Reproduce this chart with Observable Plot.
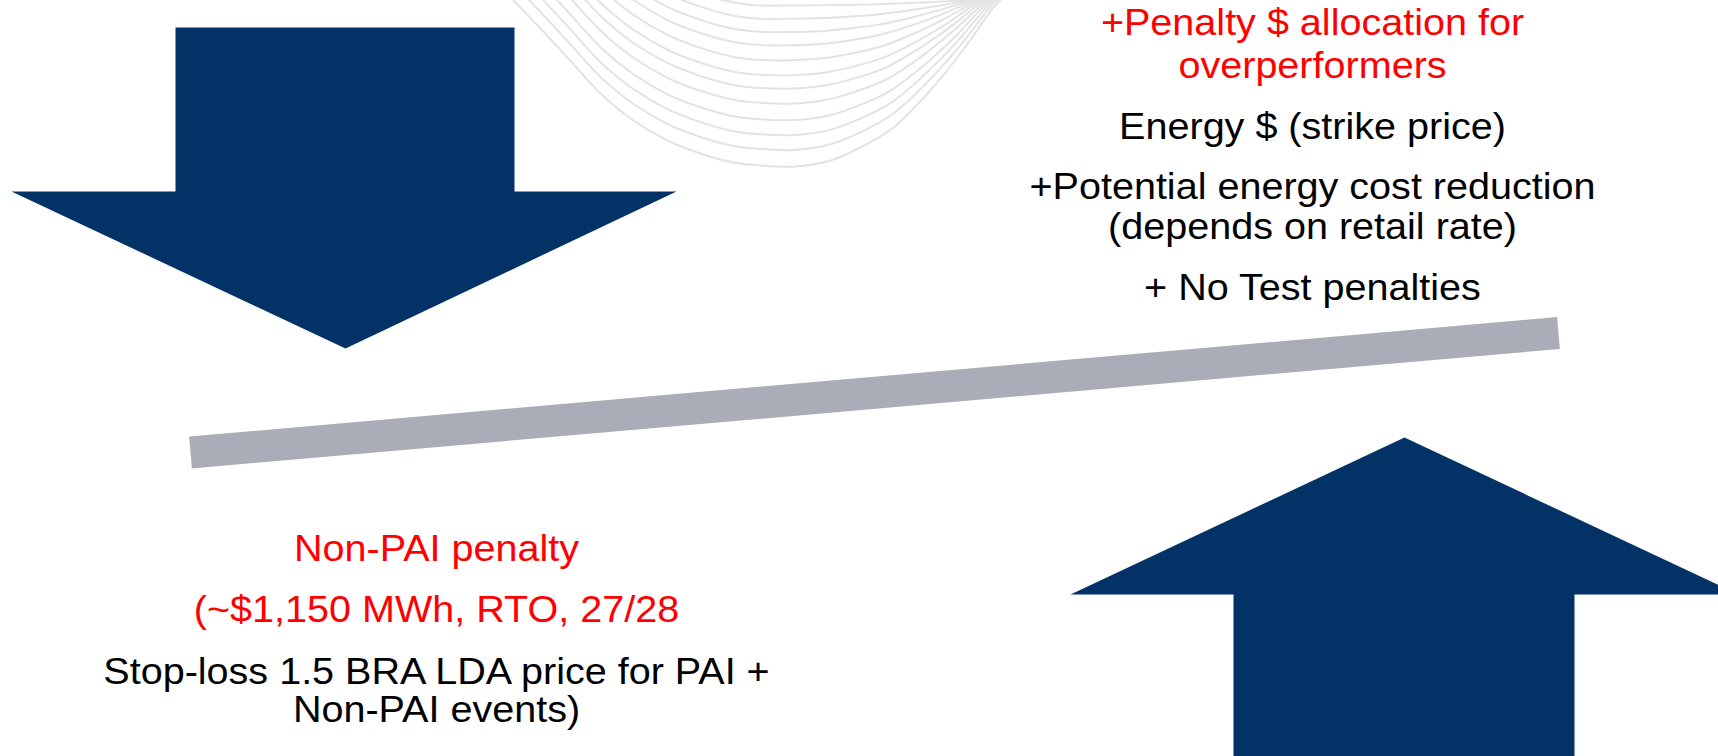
<!DOCTYPE html>
<html>
<head>
<meta charset="utf-8">
<script src="https://cdn.jsdelivr.net/npm/d3@7"></script>
<script src="https://cdn.jsdelivr.net/npm/@observablehq/plot@0.6"></script>
<style>
  html, body { margin: 0; padding: 0; background: #ffffff; overflow: hidden; }
  #chart svg { display: block; }
</style>
</head>
<body>
<div id="chart"></div>
<script>
// ---- Text content ----
const rightLines  = ["+Penalty $ allocation for", "overperformers", "Energy $ (strike price)",
                     "+Potential energy cost reduction", "(depends on retail rate)", "+ No Test penalties"];
const rightColors = ["#ff0000", "#ff0000", "#000000", "#000000", "#000000", "#000000"];
const rightY      = [22, 65, 126, 186, 226, 287];
const rightX      = 1312;

const leftLines  = ["Non-PAI penalty", "(~$1,150 MWh, RTO, 27/28",
                    "Stop-loss 1.5 BRA LDA price for PAI +", "Non-PAI events)"];
const leftColors = ["#ff0000", "#ff0000", "#000000", "#000000"];
const leftY      = [548, 609, 671, 709];
const leftX      = 436;

// ---- Shapes (pixel-space vertices) ----
const downArrowX = [175, 514, 514, 676, 345, 11, 175];
const downArrowY = [27, 27, 191, 191, 348, 191, 191];
const upArrowX   = [1404, 1738, 1574, 1574, 1233, 1233, 1070];
const upArrowY   = [437, 594, 594, 770, 770, 594, 594];
const beamX      = [190, 1558];
const beamY      = [452, 332.5];

// background swoosh: bottom curve profile, relative depth and right end of each curve
const swooshX     = [513, 540, 567, 600, 633, 667, 700, 733, 760, 795, 830, 860, 893, 927, 960, 993, 1000];
const swooshY     = [0, 28, 57, 93, 120, 140, 153, 162, 165, 166, 160, 147, 127, 93, 53, 7, 0];
const swooshScale = [1, 0.9, 0.81, 0.72, 0.62, 0.53, 0.45, 0.36, 0.27, 0.19, 0.11, 0.03];
const swooshEnd   = [1000, 997, 994, 991, 988, 985, 982, 979, 976, 973, 970, 967];

// ---- Build tables for the marks ----
const pts = (xs, ys, shape) => xs.map((x, i) => ({x, y: ys[i], shape}));
const arrows = [...pts(downArrowX, downArrowY, "down"), ...pts(upArrowX, upArrowY, "up")];
const beam = pts(beamX, beamY, "beam");

const swoosh = [];
swooshScale.forEach((c, k) => {
  const end = swooshEnd[k];
  swooshX.forEach((x, i) => {
    const y0 = swooshY[i];
    if (x < 760) {
      swoosh.push({x, y: y0 - (1 - c) * 165, k});
    } else {
      swoosh.push({x: 760 + (x - 760) * (end - 760) / 240, y: c * y0, k});
    }
  });
});

const texts = [
  ...rightLines.map((t, i) => ({text: t, x: rightX, y: rightY[i], color: rightColors[i]})),
  ...leftLines.map((t, i) => ({text: t, x: leftX, y: leftY[i], color: leftColors[i]}))
];

const chart = Plot.plot({
  width: 1718,
  height: 756,
  margin: 0,
  x: {domain: [0, 1718], range: [0, 1718], axis: null},
  y: {domain: [0, 756], range: [0, 756], axis: null},
  style: {background: "#ffffff", fontFamily: "'Liberation Sans', Arial, sans-serif"},
  marks: [
    Plot.line(swoosh, {x: "x", y: "y", z: "k", curve: "catmull-rom",
      stroke: "#e3e3e3", strokeWidth: 2, clip: true}),
    Plot.line(arrows, {x: "x", y: "y", z: "shape", curve: "linear",
      fill: "#033366", stroke: "none", clip: true}),
    Plot.line(beam, {x: "x", y: "y", stroke: "#aaacb7", strokeWidth: 32, strokeLinecap: "butt"}),
    Plot.text(texts, {x: "x", y: "y", text: "text", fill: "color",
      fontSize: 37.5, textAnchor: "middle", lineAnchor: "middle"})
  ]
});

// slight horizontal stretch, as in the reference picture
chart.querySelectorAll('g[aria-label="text"] text').forEach(t => {
  const tr = t.getAttribute("transform") || "";
  t.setAttribute("transform", tr + " scale(1.055,1)");
});

document.getElementById("chart").appendChild(chart);
</script>
</body>
</html>
